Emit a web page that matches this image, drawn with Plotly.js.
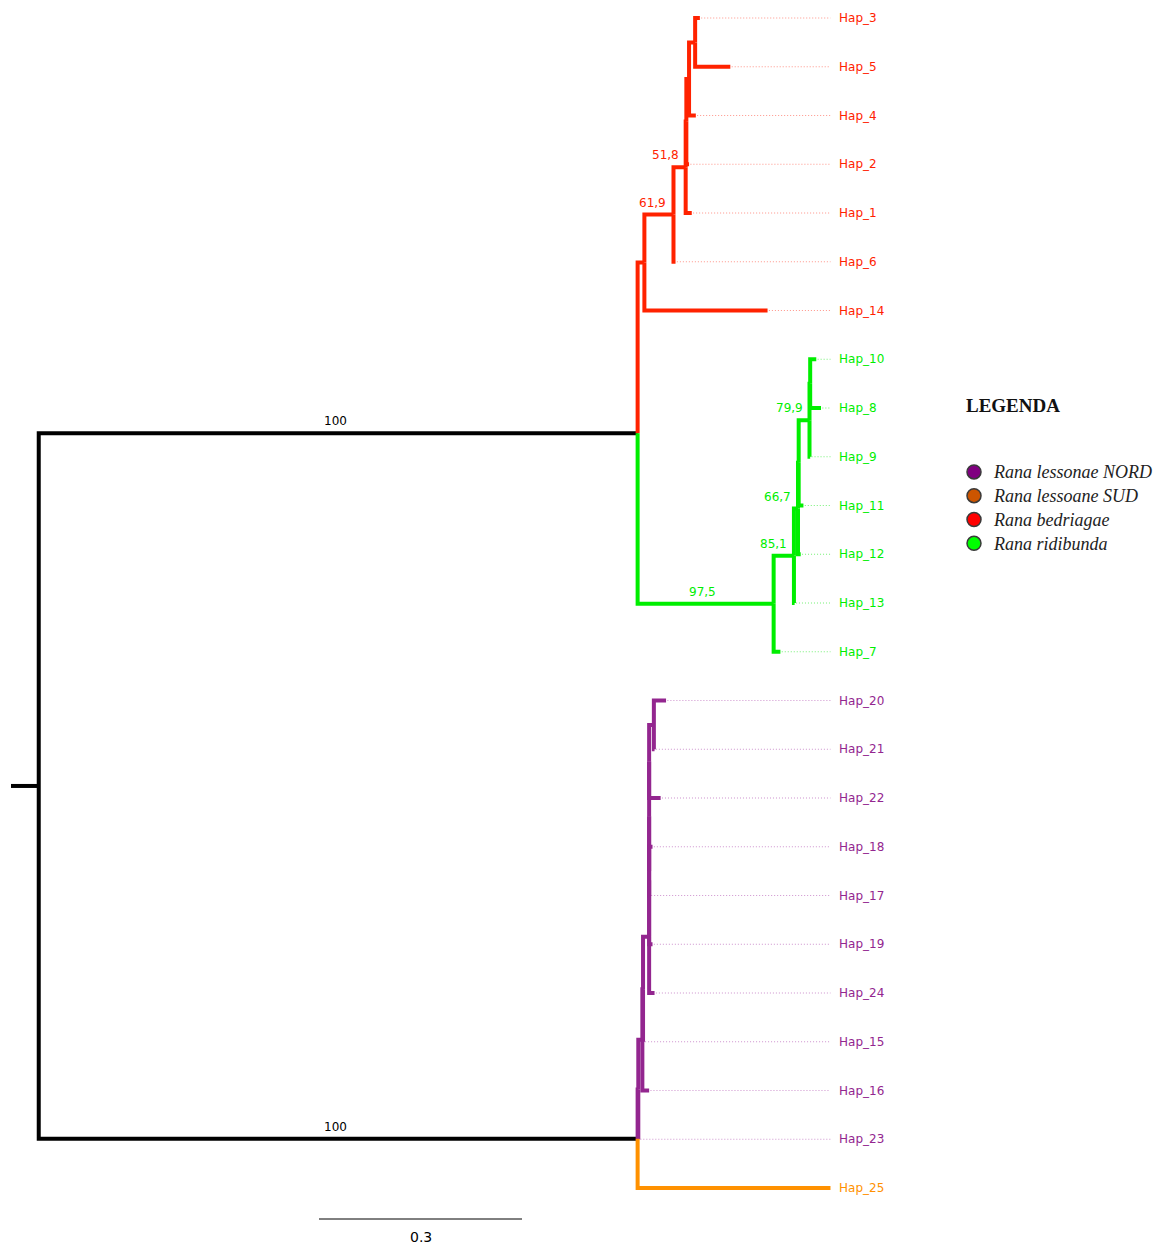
<!DOCTYPE html>
<html><head><meta charset="utf-8">
<script src="https://cdn.plot.ly/plotly-3.0.1.min.js"></script>
<style>html,body{margin:0;padding:0;background:#fff}#chart{width:1171px;height:1245px}</style>
</head><body><div id="chart"></div>
<script>
// ---- Tree data (pre-order; children listed top to bottom) ----
const nodeNames = ["root","A","R","R1","R2","X","R3","R4","Hap_3","Hap_5","Hap_4","Hap_2","Hap_1","Hap_6","Hap_14",
  "G","G1","G2","I","G3","J","Hap_10","Hap_8","Hap_9","Hap_11","Hap_12","Hap_13","Hap_7",
  "P","Q","P1","K","P2","U","T","S","P3","Hap_20","Hap_21","Hap_22","L","Hap_18","Hap_17","Hap_19","Hap_24","Hap_15","Hap_16","Hap_23","Hap_25"];
const nodeParents = [null,"root","A","R","R1","R2","X","R3","R4","R4","R3","X","R2","R1","R",
  "A","G","G1","G2","I","G3","J","J","G3","I","G2","G1","G",
  "root","P","Q","P1","K","P2","U","T","S","P3","P3","S","T","L","L","U","P2","K","P1","Q","P"];
const branchLengths = [0.041,0.885,0.010,0.043,0.018,0.001,0.004,0.009,0.007,0.052,0.010,0.004,0.009,0.003,0.182,
  0.201,0.030,0.006,0.001,0.016,0.001,0.009,0.016,0.001,0.007,0.004,0.001,0.010,
  0.885,0.001,0.006,0.001,0.009,0.000,0.000,0.000,0.007,0.018,0.001,0.017,0.000,0.005,0.001,0.005,0.008,0.001,0.010,0.001,0.285];
const supportNodes  = ["A","P","R1","R2","G","G1","G2","G3"];
const supportValues = ["100","100","61,9","51,8","97,5","85,1","66,7","79,9"];
const cladeRoots  = ["R","G","Q","Hap_25"];
const cladeColors = ["#ff2200","#00ee00","#93268f","#ff9100"];
const leaderColors = ["rgba(255,60,40,0.55)","rgba(0,230,0,0.55)","rgba(160,40,160,0.5)","rgba(255,145,0,0.5)"];
const legendNames  = ["Rana lessonae NORD","Rana lessoane SUD","Rana bedriagae","Rana ridibunda"];
const legendColors = ["#800080","#cc5500","#ff0000","#00ff00"];
const scaleBarLength = 0.3;

// ---- layout constants (pixels) ----
const W = 1171, H = 1245;
const pxPerUnit = 676.7, leftPx = 11, rowPx = 48.75, topPx = 18;

// ---- compute tree layout ----
const idx = {}; nodeNames.forEach((n,i)=>idx[n]=i);
const N = nodeNames.length;
const pIdx = nodeParents.map(p => p===null ? -1 : idx[p]);
const kids = nodeNames.map(()=>[]);
pIdx.forEach((p,i)=>{ if(p>=0) kids[p].push(i); });
const X = new Array(N), Y = new Array(N), col = new Array(N), lcol = new Array(N);
const tips = []; let tc = 0;
function lay(i, x0, c, lc){
  X[i] = x0 + branchLengths[i];
  const ci = cladeRoots.indexOf(nodeNames[i]);
  col[i] = ci>=0 ? cladeColors[ci] : c;
  lcol[i] = ci>=0 ? leaderColors[ci] : lc;
  if(kids[i].length===0){ Y[i] = tc++; tips.push(i); }
  else {
    kids[i].forEach(k=>lay(k, X[i], col[i], lcol[i]));
    const f = kids[i][0], l = kids[i][kids[i].length-1];
    Y[i] = (Y[f]+Y[l])/2;
  }
}
lay(0, 0, "#000000", "rgba(0,0,0,0.4)");
const maxX = Math.max(...tips.map(t=>X[t]));

// ---- branch traces grouped by colour ----
const byColor = {};
function add(c, xs, ys){ if(!byColor[c]) byColor[c]={x:[],y:[]}; byColor[c].x.push(...xs,null); byColor[c].y.push(...ys,null); }
for(let i=0;i<N;i++){
  const p = pIdx[i];
  if(p<0) add(col[i],[0,X[i]],[Y[i],Y[i]]);
  else add(col[i],[X[p],X[p],X[i]],[Y[p],Y[i],Y[i]]);
}
const traces = [];
// leaders
const leaders = {};
tips.forEach(t=>{
  if(maxX - X[t] < 1e-9) return;
  const c = lcol[t];
  if(!leaders[c]) leaders[c]={x:[],y:[]};
  leaders[c].x.push(X[t]+0.002, maxX, null); leaders[c].y.push(Y[t], Y[t], null);
});
Object.keys(leaders).forEach(c=>traces.push({type:'scatter',mode:'lines',x:leaders[c].x,y:leaders[c].y,
  line:{color:c,width:1,dash:'1px,2px'},hoverinfo:'skip',showlegend:false}));
Object.keys(byColor).forEach(c=>traces.push({type:'scatter',mode:'lines',x:byColor[c].x,y:byColor[c].y,
  line:{color:c,width:4},hoverinfo:'skip',showlegend:false}));

// scale bar
const sbX0 = (319-leftPx)/pxPerUnit;
const sbY = (1219-topPx)/rowPx;
traces.push({type:'scatter',mode:'lines',x:[sbX0,sbX0+scaleBarLength],y:[sbY,sbY],
  line:{color:'#000',width:1},hoverinfo:'skip',showlegend:false});

// legend entries
legendNames.forEach((n,k)=>traces.push({type:'scatter',mode:'markers',x:[null],y:[null],
  name:"<span style='font-size:18px'>"+n+"</span>",
  marker:{size:14,color:legendColors[k],line:{color:'#3a3a3a',width:1.5}},showlegend:true}));

// ---- annotations ----
const ann = [];
tips.forEach(t=>ann.push({x:maxX,y:Y[t],xref:'x',yref:'y',text:nodeNames[t],showarrow:false,
  xanchor:'left',yanchor:'middle',xshift:7,font:{family:'DejaVu Sans',size:12,color:col[t]}}));
supportNodes.forEach((n,k)=>{
  const i = idx[n], p = pIdx[i];
  const bpx = (X[i]-X[p])*pxPerUnit;
  const a = {y:Y[i],xref:'x',yref:'y',text:supportValues[k],showarrow:false,yanchor:'middle',yshift:12,
    font:{family:'DejaVu Sans',size:12,color:col[i]}};
  if(bpx>60){ a.x=(X[p]+X[i])/2; a.xanchor='center'; a.xshift=-3; }
  else { a.x=X[i]; a.xanchor='right'; a.xshift=-5; }
  ann.push(a);
});
ann.push({x:sbX0+scaleBarLength/2,y:sbY,xref:'x',yref:'y',text:String(scaleBarLength),showarrow:false,
  xanchor:'center',yanchor:'middle',yshift:-18,font:{family:'DejaVu Sans',size:14,color:'#000'}});
ann.push({x:964/W,y:1-405/H,xref:'paper',yref:'paper',text:'<b>LEGENDA</b>',showarrow:false,
  xanchor:'left',yanchor:'middle',font:{family:'Liberation Serif',size:19,color:'#111'}});

const layout = {
  width:W,height:H,margin:{l:0,r:0,t:0,b:0},paper_bgcolor:'#fff',plot_bgcolor:'#fff',
  xaxis:{range:[-leftPx/pxPerUnit,(W-leftPx)/pxPerUnit],visible:false,fixedrange:true},
  yaxis:{range:[(H-topPx)/rowPx,-topPx/rowPx],visible:false,fixedrange:true},
  showlegend:true,
  legend:{x:954/W,xanchor:'left',y:1-455/H,yanchor:'top',bgcolor:'rgba(0,0,0,0)',
    font:{family:'Liberation Serif',size:16,style:'italic',color:'#222'},itemsizing:'trace'},
  annotations:ann,hovermode:false
};
Plotly.newPlot('chart',traces,layout,{staticPlot:true,displayModeBar:false});
</script></body></html>
